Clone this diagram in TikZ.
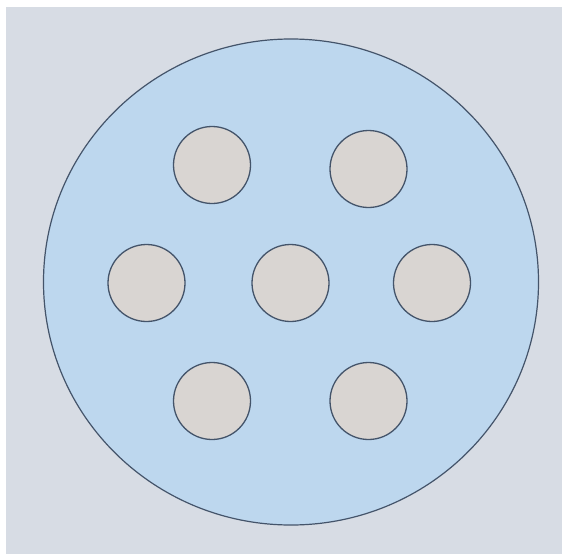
\documentclass[tikz,border=0pt]{standalone}
\usepackage{tikz}

\definecolor{backgray}{HTML}{D7DCE4}
\definecolor{plateblue}{HTML}{BDD7EE}
\definecolor{holegray}{HTML}{D9D5D2}
\definecolor{rimblue}{HTML}{44546A}

\tikzset{
  plate/.style={draw=rimblue, fill=plateblue, line width=1.2pt},
  hole/.style={circle, draw=rimblue, fill=holegray, line width=1.3pt,
    minimum size=77pt, inner sep=0pt}
}

\begin{document}
\begin{tikzpicture}[x=1pt, y=-1pt]
\useasboundingbox (0,0) rectangle (562,554);
\fill[white] (0,0) rectangle (562,554);
\fill[backgray] (6,7) rectangle (562,554);

\draw[plate] (291,282) ellipse [x radius=247.5, y radius=243];

\node[hole] (tl) at (212,165) {};
\node[hole] (tr) at (368.5,169) {};
\node[hole] (ml) at (146.5,283) {};
\node[hole] (mc) at (290.5,283) {};
\node[hole] (mr) at (432,283) {};
\node[hole] (bl) at (212,401) {};
\node[hole] (br) at (368.5,401) {};
\end{tikzpicture}
\end{document}
